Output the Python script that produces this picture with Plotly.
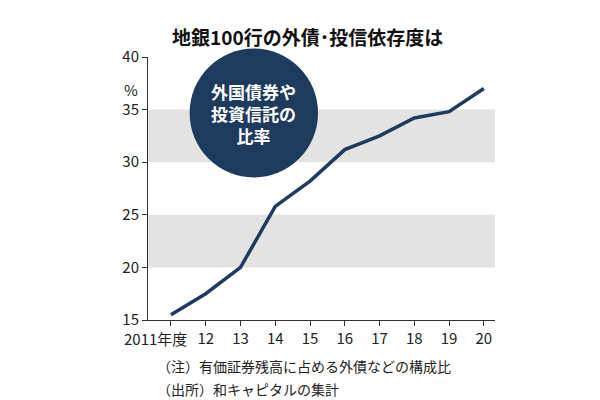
import plotly.graph_objects as go

years = [2011, 2012, 2013, 2014, 2015, 2016, 2017, 2018, 2019, 2020]
tick_labels = ["", "12", "13", "14", "15", "16", "17", "18", "19", "20"]
first_label = "2011年度"
ratio = [15.5, 17.5, 20.0, 25.8, 28.2, 31.2, 32.5, 34.2, 34.8, 37.0]
bands = [(20, 25), (30, 35)]

navy = "#1e3a5c"
font = "Noto Sans CJK JP"

fig = go.Figure()
fig.add_trace(go.Scatter(x=years, y=ratio, mode="lines",
                         line=dict(color=navy, width=3.5), showlegend=False))

shapes = []
for lo, hi in bands:
    shapes.append(dict(type="rect", xref="paper", yref="y", x0=0, x1=1, y0=lo, y1=hi,
                       fillcolor="#e3e3e3", line_width=0, layer="below"))
# badge circle
shapes.append(dict(type="circle", xref="paper", yref="paper",
                   x0=0.305 - 0.185, x1=0.305 + 0.185, y0=0.787 - 0.245, y1=0.787 + 0.245,
                   fillcolor=navy, line_width=0))

fig.update_layout(
    width=600, height=400,
    margin=dict(l=140, r=113, t=49, b=88),
    plot_bgcolor="white", paper_bgcolor="white",
    font=dict(family=font, color="#222", size=15),
    shapes=shapes,
    xaxis=dict(range=[2010.34, 2020.32], tickvals=years, ticktext=tick_labels, tickangle=0,
               showgrid=False, showline=True, linecolor="#333", linewidth=1,
               ticks="outside", ticklen=5, tickcolor="#333", zeroline=False),
    yaxis=dict(range=[15, 40], tickvals=[15, 20, 25, 30, 35, 40],
               showgrid=False, showline=True, linecolor="#333", linewidth=1,
               ticks="outside", ticklen=5, tickcolor="#333", zeroline=False),
    annotations=[
        dict(text="<b>地銀100行の外債･投信依存度は</b>", xref="paper", yref="paper",
             x=0.46, y=1.0, yshift=36, xanchor="center", showarrow=False,
             font=dict(size=19, color="#111")),
        dict(text="%", xref="paper", yref="paper", x=0, y=1, xanchor="right",
             xshift=-8, yshift=-20, showarrow=False, font=dict(size=15)),
        dict(text=first_label, xref="x", yref="paper", x=2011, y=0, xanchor="right",
             yanchor="top", xshift=18, yshift=-6, showarrow=False, font=dict(size=15)),
        dict(text="<b>外国債券や<br>投資信託の<br>比率</b>", xref="paper", yref="paper",
             x=0.305, y=0.787, xanchor="center", yanchor="middle", showarrow=False,
             font=dict(size=17, color="white")),
        dict(text="（注）有価証券残高に占める外債などの構成比", xref="paper", yref="paper",
             x=0.02, y=0, yshift=-46, xanchor="left", yanchor="middle",
             showarrow=False, font=dict(size=14)),
        dict(text="（出所）和キャピタルの集計", xref="paper", yref="paper",
             x=0.02, y=0, yshift=-69, xanchor="left", yanchor="middle",
             showarrow=False, font=dict(size=14)),
    ],
)

fig.write_html("out.html")
